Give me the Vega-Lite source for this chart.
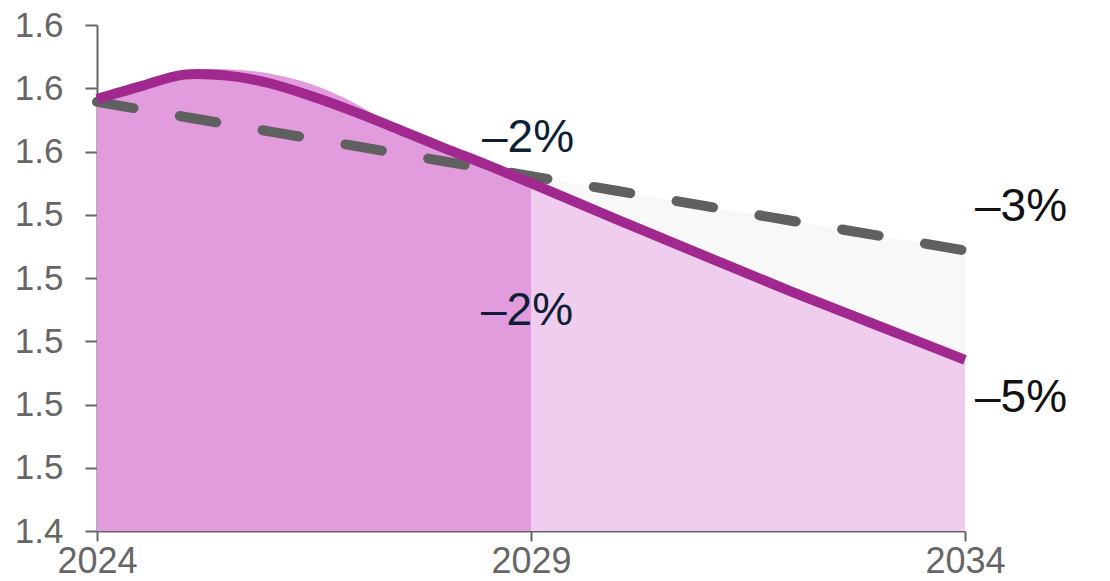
{
  "$schema": "https://vega.github.io/schema/vega-lite/v6.json",
  "width": 868,
  "height": 506,
  "autosize": {"type": "none"},
  "padding": {"left": 97, "top": 25, "right": 145, "bottom": 50},
  "background": "white",
  "config": {
    "view": {"stroke": null},
    "axis": {
      "grid": false,
      "domainColor": "#666666",
      "domainWidth": 2,
      "tickColor": "#666666",
      "tickWidth": 2,
      "labelColor": "#666666",
      "labelFont": "Liberation Sans",
      "title": null
    }
  },
  "datasets": {
    "series": [
      {"year": 2024, "purple": 1.5766, "dashed": 1.5757, "fill": 1.5766},
      {"year": 2024.5, "purple": 1.5806, "fill": 1.5808},
      {"year": 2025, "purple": 1.5843, "dashed": 1.5710, "fill": 1.5853},
      {"year": 2025.5, "purple": 1.5840, "fill": 1.5860},
      {"year": 2026, "purple": 1.5815, "dashed": 1.5663, "fill": 1.5846},
      {"year": 2026.5, "purple": 1.5772, "fill": 1.5810},
      {"year": 2027, "purple": 1.5722, "dashed": 1.5616, "fill": 1.5748},
      {"year": 2027.5, "purple": 1.5667, "fill": 1.5667},
      {"year": 2028, "purple": 1.5611, "dashed": 1.5569, "fill": 1.5611},
      {"year": 2028.5, "purple": 1.5557, "fill": 1.5557},
      {"year": 2029, "purple": 1.5500, "dashed": 1.5522, "fill": 1.5500},
      {"year": 2030, "purple": 1.5384, "dashed": 1.5475},
      {"year": 2031, "purple": 1.5270, "dashed": 1.5428},
      {"year": 2032, "purple": 1.5157, "dashed": 1.5381},
      {"year": 2033, "purple": 1.5049, "dashed": 1.5334},
      {"year": 2034, "purple": 1.4941, "dashed": 1.5287}
    ],
    "labels": [
      {"year": 2029, "value": 1.5522, "series": "dashed", "label": "–2%"},
      {"year": 2029, "value": 1.5500, "series": "purple", "label": "–2%"},
      {"year": 2034, "value": 1.5287, "series": "dashed", "label": "–3%"},
      {"year": 2034, "value": 1.4941, "series": "purple", "label": "–5%"}
    ]
  },
  "encoding": {
    "x": {
      "field": "year",
      "type": "quantitative",
      "scale": {"domain": [2024, 2034], "nice": false, "zero": false},
      "axis": {
        "values": [2024, 2029, 2034],
        "format": "d",
        "labelFontSize": 36,
        "tickSize": 10,
        "labelPadding": 3,
        "labelFlush": false
      }
    }
  },
  "layer": [
    {
      "data": {"name": "series"},
      "transform": [{"filter": "datum.year <= 2029"}],
      "mark": {"type": "area", "color": "#e29bdc", "interpolate": "cardinal"},
      "encoding": {
        "y": {
          "field": "fill",
          "type": "quantitative",
          "scale": {"domain": [1.44, 1.6], "nice": false, "zero": false},
          "axis": {
            "values": [1.44, 1.46, 1.48, 1.5, 1.52, 1.54, 1.56, 1.58, 1.6],
            "format": ".1f",
            "labelFontSize": 35,
            "tickSize": 12,
            "labelPadding": 22
          }
        },
        "y2": {"datum": 1.44}
      }
    },
    {
      "data": {"name": "series"},
      "transform": [{"filter": "datum.year >= 2029"}],
      "mark": {"type": "area", "color": "#f0cdee", "interpolate": "cardinal"},
      "encoding": {
        "y": {"field": "purple", "type": "quantitative"},
        "y2": {"datum": 1.44}
      }
    },
    {
      "data": {"name": "series"},
      "transform": [{"filter": "datum.year >= 2029"}],
      "mark": {"type": "area", "color": "#f8f8f8"},
      "encoding": {
        "y": {"field": "dashed", "type": "quantitative"},
        "y2": {"field": "purple"}
      }
    },
    {
      "data": {"name": "series"},
      "transform": [{"filter": "isValid(datum.dashed)"}],
      "mark": {"type": "line", "color": "#606060", "strokeWidth": 10, "strokeDash": [37, 47], "strokeCap": "round"},
      "encoding": {
        "y": {"field": "dashed", "type": "quantitative"}
      }
    },
    {
      "data": {"name": "series"},
      "mark": {"type": "line", "color": "#a0288f", "strokeWidth": 10, "interpolate": "cardinal"},
      "encoding": {
        "y": {"field": "purple", "type": "quantitative"}
      }
    },
    {
      "data": {"name": "labels"},
      "transform": [{"filter": "datum.year == 2029 && datum.series == 'dashed'"}],
      "mark": {"type": "text", "font": "Liberation Sans", "fontSize": 46, "color": "#0d1f35", "align": "center", "baseline": "alphabetic", "dx": -3, "dy": -24},
      "encoding": {
        "y": {"field": "value", "type": "quantitative"},
        "text": {"field": "label"}
      }
    },
    {
      "data": {"name": "labels"},
      "transform": [{"filter": "datum.year == 2029 && datum.series == 'purple'"}],
      "mark": {"type": "text", "font": "Liberation Sans", "fontSize": 46, "color": "#0d1f35", "align": "center", "baseline": "alphabetic", "dx": -4, "dy": 142},
      "encoding": {
        "y": {"field": "value", "type": "quantitative"},
        "text": {"field": "label"}
      }
    },
    {
      "data": {"name": "labels"},
      "transform": [{"filter": "datum.year == 2034 && datum.series == 'dashed'"}],
      "mark": {"type": "text", "font": "Liberation Sans", "fontSize": 46, "color": "#111111", "align": "left", "baseline": "alphabetic", "dx": 10, "dy": -29},
      "encoding": {
        "y": {"field": "value", "type": "quantitative"},
        "text": {"field": "label"}
      }
    },
    {
      "data": {"name": "labels"},
      "transform": [{"filter": "datum.year == 2034 && datum.series == 'purple'"}],
      "mark": {"type": "text", "font": "Liberation Sans", "fontSize": 46, "color": "#111111", "align": "left", "baseline": "alphabetic", "dx": 10, "dy": 52},
      "encoding": {
        "y": {"field": "value", "type": "quantitative"},
        "text": {"field": "label"}
      }
    }
  ]
}
